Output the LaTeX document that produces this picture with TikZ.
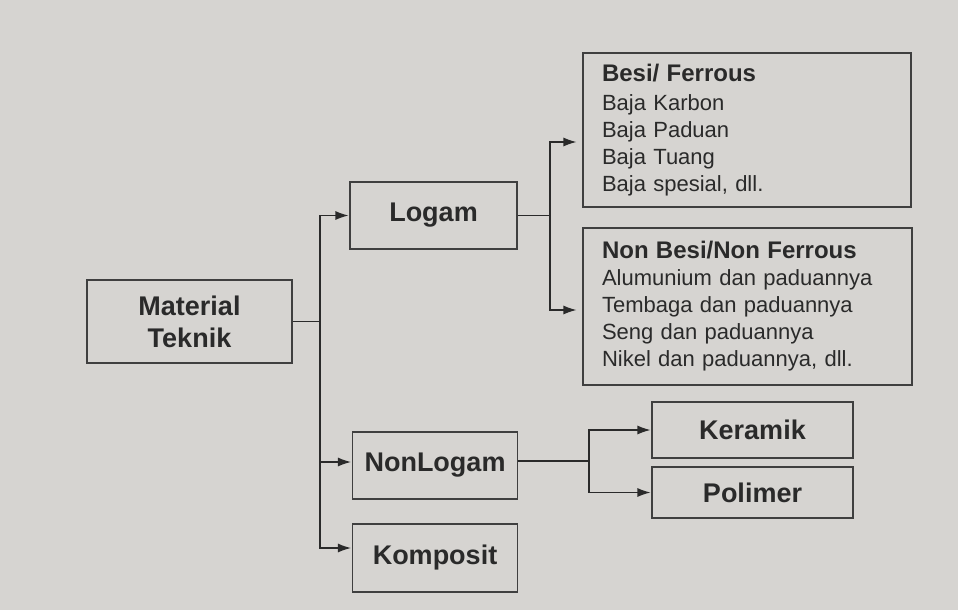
\documentclass[tikz,border=0pt]{standalone}
\usepackage{fontspec}
\setmainfont{Liberation Sans}
\usetikzlibrary{arrows.meta}
\definecolor{paper}{HTML}{D6D4D1}
\definecolor{ink}{HTML}{2A2A2A}
\begin{document}
\begin{tikzpicture}[x=1pt,y=-1pt,
  box/.style={draw=ink!90, line width=1.1pt, inner sep=0pt},
  conn/.style={draw=ink, line width=1.2pt},
  arr/.style={conn, -{Latex[length=13pt,width=9pt]}, shorten >=1pt},
  arrgap/.style={arr, shorten >=6pt},
  lbl/.style={font=\fontsize{27}{32}\selectfont\bfseries, text=ink, align=center},
  listbox/.style={box, font=\fontsize{22}{27}\selectfont, text=ink, align=left, inner xsep=19pt},
]
\fill[paper] (0,0) rectangle (958,610);
\useasboundingbox (0,0) rectangle (958,610);

\node[box, lbl, minimum width=205pt, minimum height=83pt] (mt) at (189.5,321.5) {Material\\Teknik};
\node[box, lbl, minimum width=167pt, minimum height=67pt] (logam) at (433.5,215.5) {Logam};
\node[box, lbl, minimum width=165pt, minimum height=67pt] (nonlogam) at (435,465.5) {NonLogam};
\node[box, lbl, minimum width=165pt, minimum height=68pt] (komposit) at (435,558) {Komposit};
\node[box, lbl, minimum width=201pt, minimum height=56pt] (keramik) at (752.5,430) {Keramik};
\node[box, lbl, minimum width=201pt, minimum height=51pt] (polimer) at (752.5,492.5) {Polimer};

\node[listbox, text width=290pt, minimum height=154pt] (besi) at (747,130)
  {{\fontsize{24}{27}\selectfont\bfseries Besi/ Ferrous}\\[2pt]
   Baja Karbon\\ Baja Paduan\\ Baja Tuang\\ Baja spesial, dll.};
\node[listbox, text width=291pt, minimum height=157pt] (nonbesi) at (747.5,306.5)
  {{\fontsize{24}{27}\selectfont\bfseries Non Besi/Non Ferrous}\\
   Alumunium dan paduannya\\ Tembaga dan paduannya\\ Seng dan paduannya\\ Nikel dan paduannya, dll.};

\coordinate (j1) at (320,321.5);
\coordinate (j2) at (550,215.5);
\coordinate (j3) at (589,461);

\draw[conn] (mt.east) -- (j1);
\draw[arr] (j1) |- (logam.west);
\draw[arr] (j1) |- ([yshift=3.5pt]nonlogam.west);
\draw[arr] (j1) |- ([yshift=10pt]komposit.west);

\draw[conn] (logam.east) -- (j2);
\draw[arrgap] (j2) |- ([yshift=-12pt]besi.west);
\draw[arrgap] (j2) |- ([yshift=-3.5pt]nonbesi.west);

\draw[conn] (nonlogam.east |- j3) -- (j3);
\draw[arr] (j3) |- (keramik.west);
\draw[arr] (j3) |- (polimer.west);
\end{tikzpicture}
\end{document}
